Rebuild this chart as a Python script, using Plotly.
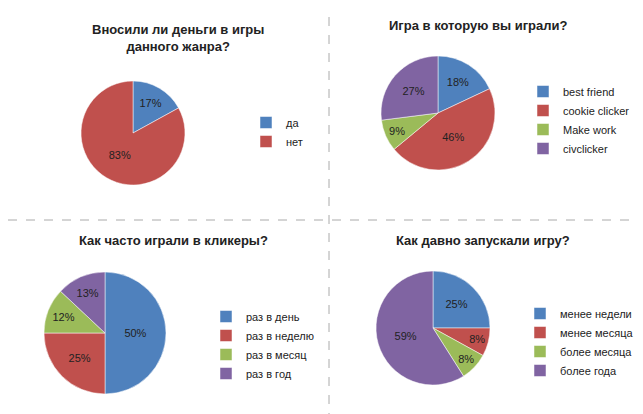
import plotly.graph_objects as go

W, H = 643, 414
colors = ['#4F81BD', '#C0504D', '#9BBB59', '#8064A2']

# данные
labels1 = ['да', 'нет']
values1 = [17, 83]
labels2 = ['best friend', 'cookie clicker', 'Make work', 'civclicker']
values2 = [18, 46, 9, 27]
labels3 = ['раз в день', 'раз в неделю', 'раз в месяц', 'раз в год']
values3 = [50, 25, 12, 13]
labels4 = ['менее недели', 'менее месяца', 'более месяца', 'более года']
values4 = [25, 8, 8, 59]

titles = ['Вносили ли деньги в игры<br>данного жанра?', 'Игра в которую вы играли?',
          'Как часто играли в кликеры?', 'Как давно запускали игру?']

# center x, center y (px from top), radius
pies = [(125, 125, 52), (430, 105, 57), (97, 325, 61), (425, 320, 57)]
legpos = [(238, 100), (515, 69), (198, 294), (512, 291)]
titlepos = [(170, 30), (470, 18), (165, 233), (475, 233)]

fig = go.Figure()
data = [(labels1, values1), (labels2, values2), (labels3, values3), (labels4, values4)]
for i, ((lab, val), (cx, cy, r)) in enumerate(zip(data, pies)):
    fig.add_trace(go.Pie(
        labels=lab, values=val, sort=False, direction='clockwise', rotation=0,
        marker=dict(colors=colors[:len(lab)], line=dict(color='white', width=0.5)),
        texttemplate='%{value}%', textposition='inside', insidetextorientation='horizontal',
        textfont=dict(size=11, color='#222'), hoverinfo='label+percent',
        domain=dict(x=[(cx - r) / W, (cx + r) / W], y=[(H - cy - r) / H, (H - cy + r) / H]),
        legend='legend' if i == 0 else 'legend%d' % (i + 1),
    ))

layout = dict(width=W, height=H, margin=dict(l=0, r=0, t=0, b=0),
              paper_bgcolor='white', plot_bgcolor='white',
              font=dict(family='Liberation Sans, Arial', color='#222'))
for i, (lx, ly) in enumerate(legpos):
    key = 'legend' if i == 0 else 'legend%d' % (i + 1)
    layout[key] = dict(x=lx / W, y=1 - ly / H, xanchor='left', yanchor='top',
                       font=dict(size=11), bgcolor='rgba(0,0,0,0)', itemclick=False)
fig.update_layout(**layout)

for t, (tx, ty) in zip(titles, titlepos):
    fig.add_annotation(text='<b>%s</b>' % t, x=tx / W, y=1 - ty / H, xref='paper', yref='paper',
                       xanchor='center', yanchor='middle', showarrow=False,
                       font=dict(size=13, color='#222'))

fig.add_shape(type='line', xref='paper', yref='paper', x0=321 / W, x1=321 / W, y0=0, y1=1,
              line=dict(color='#aaa', width=1, dash='dash'))
fig.add_shape(type='line', xref='paper', yref='paper', x0=0, x1=1, y0=1 - 212 / H, y1=1 - 212 / H,
              line=dict(color='#aaa', width=1, dash='dash'))

fig.write_html('out.html')
